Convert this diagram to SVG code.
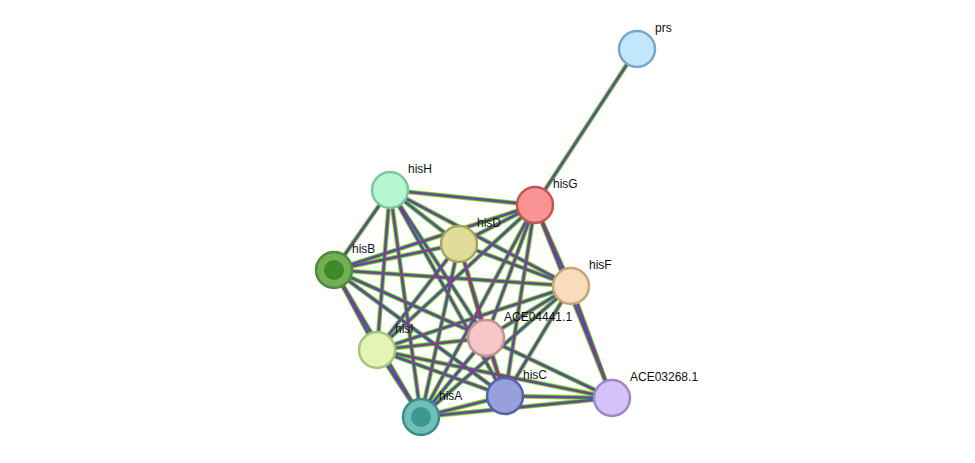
<svg xmlns="http://www.w3.org/2000/svg" width="975" height="463" viewBox="0 0 975 463">
<style>
.e{fill:none;stroke-linecap:butt}
.l1{stroke:#c8dc48;stroke-width:5}
.l2{stroke:#38c038;stroke-width:3.6}
.l3{stroke:#3048e8;stroke-width:2.2}
.l4{stroke:#e02838;stroke-width:0.8}
circle{stroke-width:2.5}
text{font-family:"Liberation Sans",Arial,sans-serif;font-size:12px;fill:#111}
</style>
<defs>
<path id="E" d="M637,49L535,205 M390,190L535,205 M390,190L459,244 M390,190L334,270 M390,190L571,286 M390,190L486,338 M390,190L377,350 M390,190L505,396 M390,190L421,417 M535,205L459,244 M535,205L334,270 M535,205L571,286 M535,205L486,338 M535,205L377,350 M535,205L505,396 M535,205L421,417 M459,244L334,270 M459,244L571,286 M459,244L486,338 M459,244L377,350 M459,244L505,396 M459,244L421,417 M334,270L571,286 M334,270L486,338 M334,270L377,350 M334,270L505,396 M334,270L421,417 M571,286L486,338 M571,286L377,350 M571,286L505,396 M571,286L421,417 M486,338L377,350 M486,338L505,396 M486,338L421,417 M377,350L505,396 M377,350L421,417 M505,396L421,417 M612,398L571,286 M612,398L535,205 M612,398L505,396 M612,398L421,417 M612,398L377,350 M612,398L486,338"/>
</defs>
<g id="connectors">
<use href="#E" class="e l1"/>
<use href="#E" class="e l2"/>
<use href="#E" class="e l3"/>
<use href="#E" class="e l4"/>
</g>
<g id="prs"><circle cx="637" cy="49" r="18" fill="#c2e6fb" stroke="#78a8c8"/><text x="655" y="32">prs</text></g>
<g id="hisH"><circle cx="390" cy="190" r="18" fill="#b8f5d2" stroke="#7cc89c"/><text x="408" y="173">hisH</text></g>
<g id="hisG"><circle cx="535" cy="205" r="18" fill="#fa9494" stroke="#c05656"/><text x="553" y="188">hisG</text></g>
<g id="hisD"><circle cx="459" cy="244" r="18" fill="#e0dc9a" stroke="#a8a460"/><text x="477" y="227">hisD</text></g>
<g id="hisB"><circle cx="334" cy="270" r="18" fill="#70b050" stroke="#4e8c44"/><circle cx="334" cy="270" r="10" fill="#3c8a2a" stroke="none"/><text x="352" y="253">hisB</text></g>
<g id="hisF"><circle cx="571" cy="286" r="18" fill="#f8dcbc" stroke="#c8a478"/><text x="589" y="269">hisF</text></g>
<g id="ACE04441.1"><circle cx="486" cy="338" r="18" fill="#f6c6c8" stroke="#c49094"/><text x="504" y="321">ACE04441.1</text></g>
<g id="hisI"><circle cx="377" cy="350" r="18" fill="#e4f4b4" stroke="#a8c47c"/><text x="395" y="333">hisI</text></g>
<g id="hisC"><circle cx="505" cy="396" r="18" fill="#98a0dc" stroke="#5462a8"/><text x="523" y="379">hisC</text></g>
<g id="ACE03268.1"><circle cx="612" cy="398" r="18" fill="#d4c2f8" stroke="#9c88c8"/><text x="630" y="381">ACE03268.1</text></g>
<g id="hisA"><circle cx="421" cy="417" r="18" fill="#70c0b8" stroke="#3c8c88"/><circle cx="421" cy="417" r="10" fill="#3c9890" stroke="none"/><text x="439" y="400">hisA</text></g>
</svg>
